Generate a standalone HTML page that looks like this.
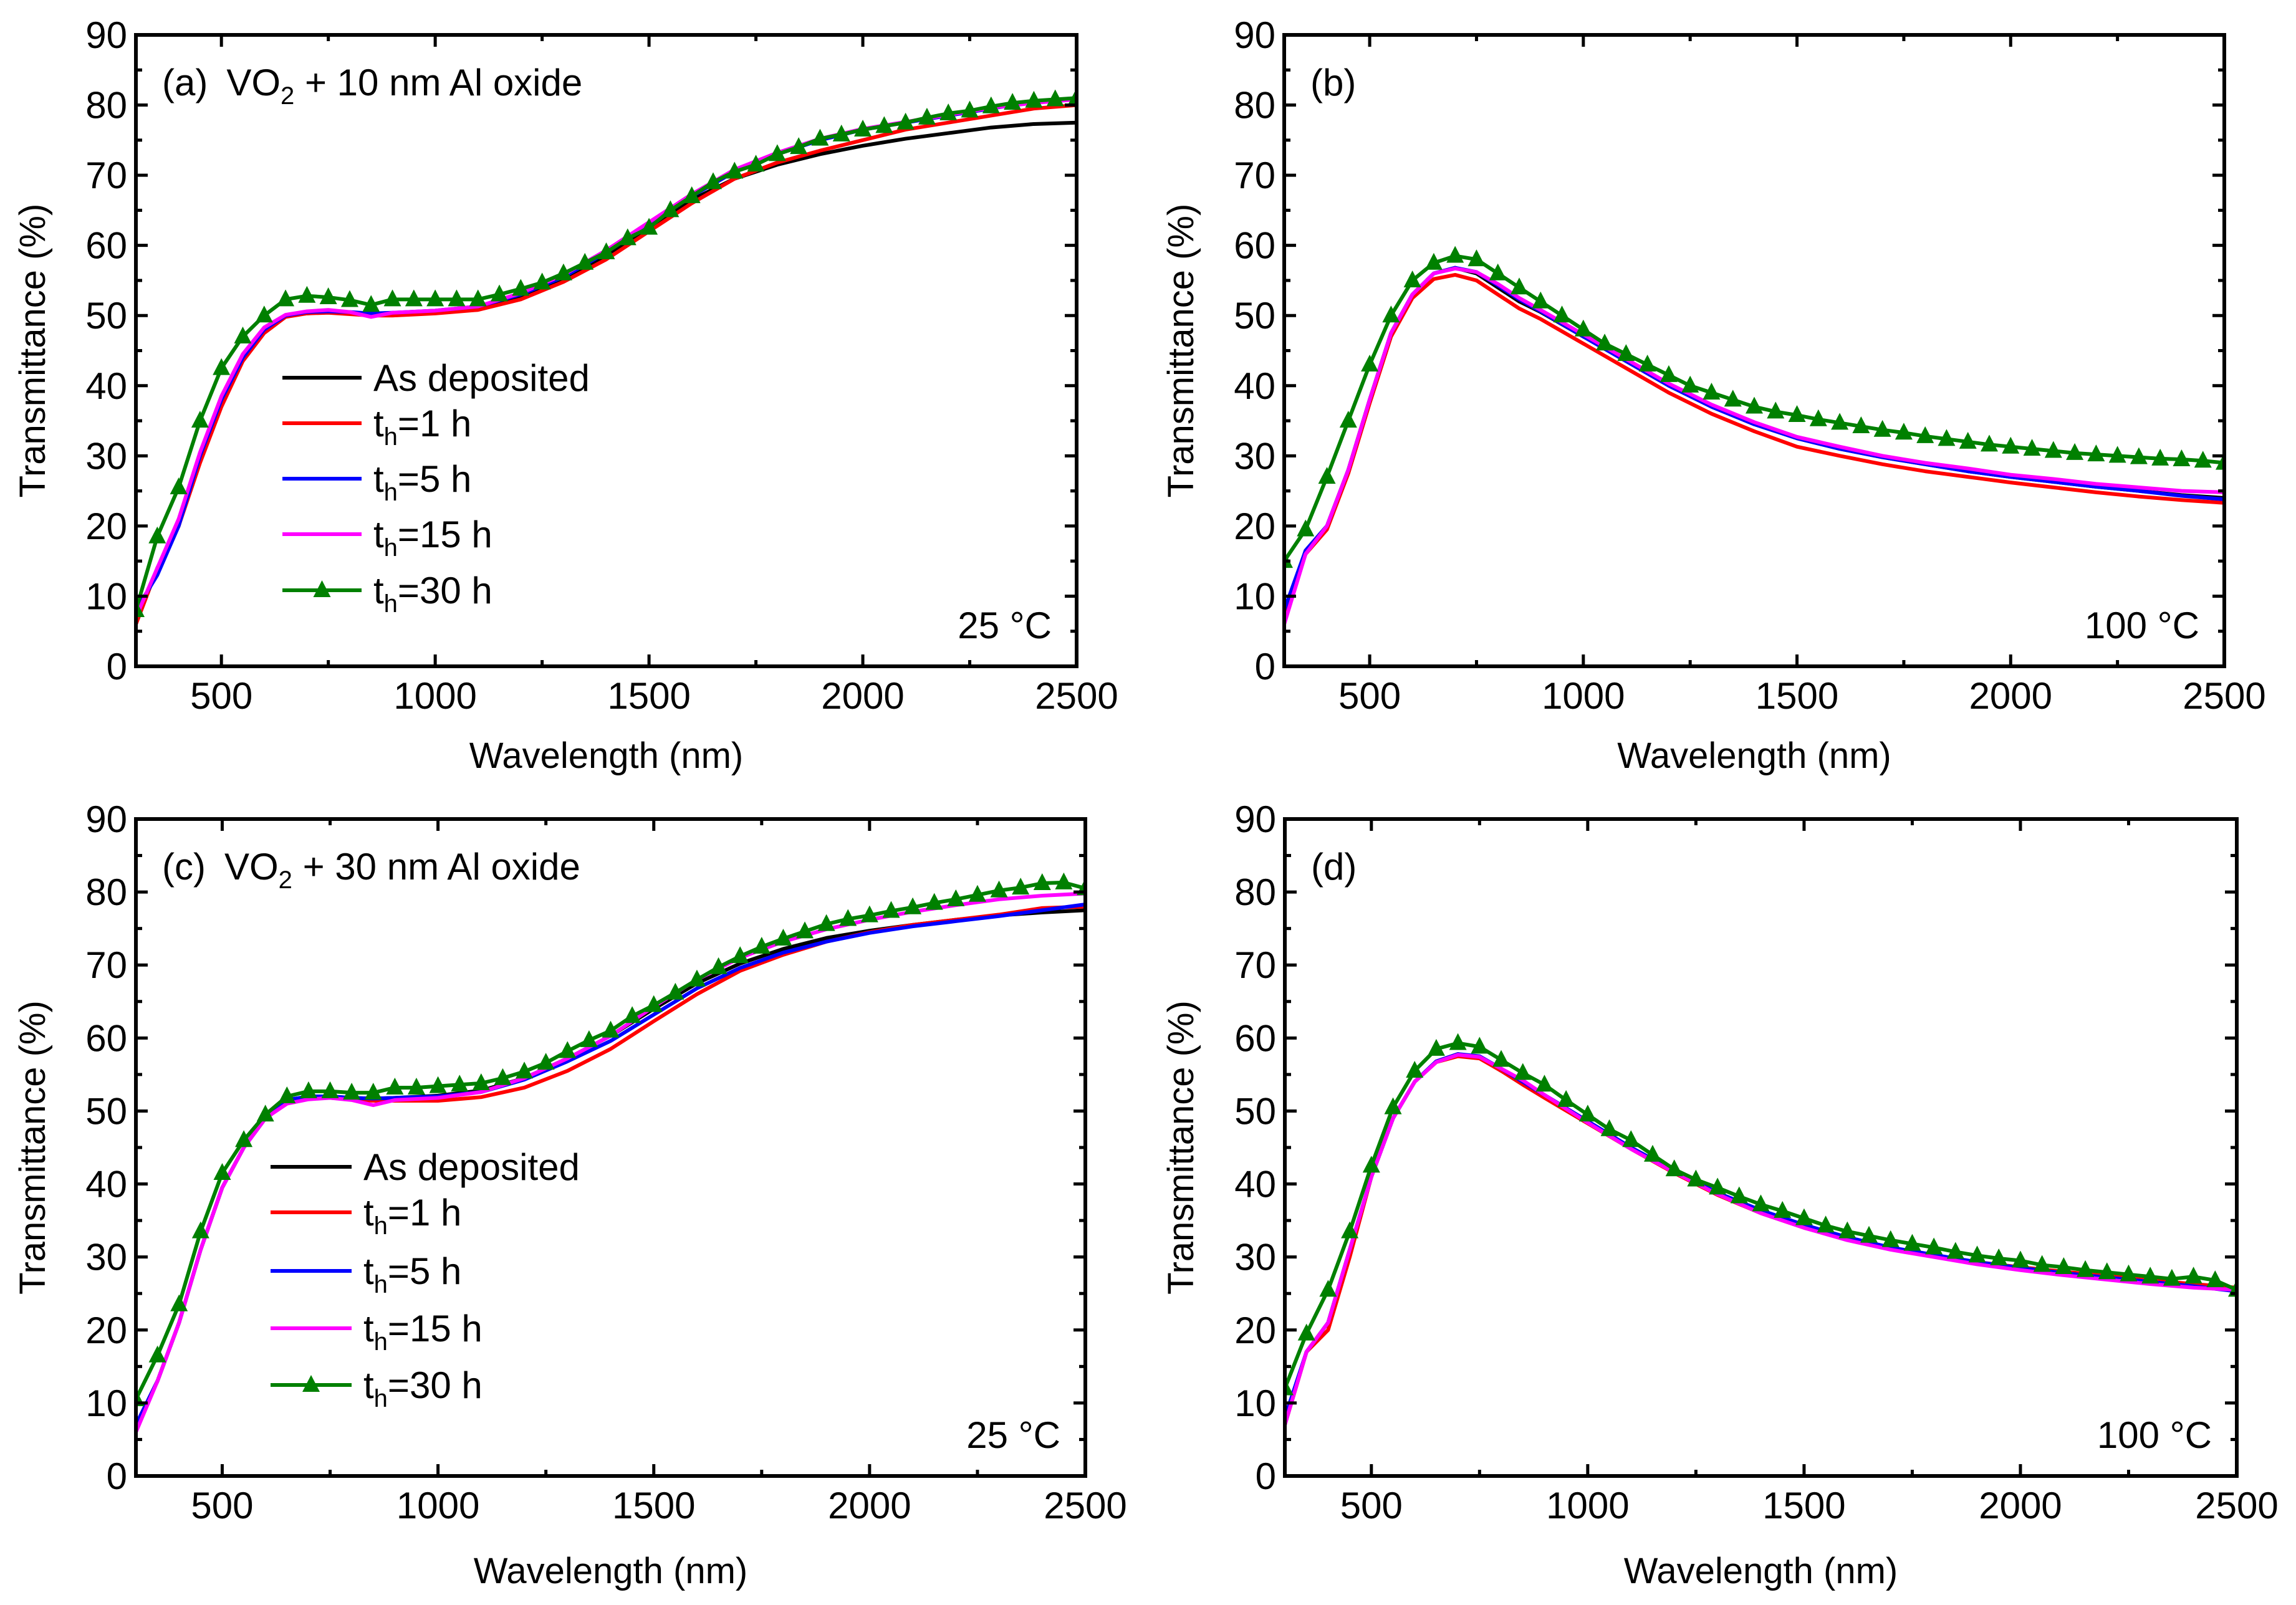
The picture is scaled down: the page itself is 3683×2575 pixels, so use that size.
<!DOCTYPE html>
<html><head><meta charset="utf-8"><style>
html,body{margin:0;padding:0;background:#fff}
svg{display:block}
.tk{font-family:"Liberation Sans Narrow","Liberation Sans",sans-serif;font-size:60px;fill:#000}
.tt{font-family:"Liberation Sans",sans-serif;font-size:58px;fill:#000}
.an{font-family:"Liberation Sans Narrow","Liberation Sans",sans-serif;font-size:60px;fill:#000}
</style></head><body>
<svg id="fig" width="3683" height="2575" viewBox="0 0 3683 2575" xmlns="http://www.w3.org/2000/svg"></svg>
<script>
const wl=[300,350,400,450,500,550,600,650,700,750,800,850,900,1000,1100,1200,1300,1400,1500,1600,1700,1800,1900,2000,2100,2200,2300,2400,2500];
const wlTri=[300,350,400,450,500,550,600,650,700,750,800,850,900,950,1000,1050,1100,1150,1200,1250,1300,1350,1400,1450,1500,1550,1600,1650,1700,1750,1800,1850,1900,1950,2000,2050,2100,2150,2200,2250,2300,2350,2400,2450,2500];
// panel a
const aBlack=[6,14,20,30,38,44,48,50,50.3,50.5,50.3,50.3,50.3,50.5,51,52.5,55,58.5,62.5,66.5,69.5,71.5,73,74.2,75.2,76,76.8,77.3,77.5];
const aRed=[6,14,20,29,37,43.5,47.5,49.8,50.3,50.4,50.2,50,50,50.3,50.8,52.3,54.8,58,62,66,69.5,71.8,73.5,75,76.5,77.5,78.5,79.5,80];
const aBlue=[8,13,20,30,38,44,48,50,50.5,50.6,50.5,50.3,50.4,50.7,51.3,53,55.5,59,63,67,70.5,73,75,76.5,77.5,78.5,79.5,80.5,81];
const aMag=[7,14,21,30.5,38.5,44.5,48.3,50.1,50.6,50.8,50.5,49.8,50.4,50.7,51.3,53.2,55.8,59.3,63.3,67.3,70.8,73.2,75.2,76.6,77.6,78.6,79.6,80.3,80.8];
const aGreen=[8,18.5,25.5,35,42.5,47,50,52.3,52.8,52.6,52.2,51.5,52.3,52.3,52.3,52.3,52.3,53,53.8,54.7,56,57.5,59,61,62.5,65,67,69,70.5,71.5,73,74,75.2,75.8,76.5,77,77.5,78.2,78.8,79.2,79.8,80.3,80.6,80.8,81];
// panel b
const bBlack=[7,16.5,20,28,38,47.5,53,56,56.8,56,54,52,50.5,47,43.5,40,37,34.5,32.5,31,29.8,28.8,27.8,27,26.3,25.6,25,24.4,24];
const bRed=[7,16,19.5,27.5,37.5,47,52.5,55.2,55.8,55,53,51,49.5,46,42.5,39,36,33.5,31.3,30,28.8,27.8,27,26.2,25.5,24.8,24.2,23.7,23.3];
const bBlue=[8,16.5,20,28,38,47.5,53,56,56.8,56.2,54.3,52.3,50.6,47,43.5,40,37,34.5,32.5,31,29.8,28.8,27.8,27,26.3,25.6,25,24.3,23.8];
const bMag=[6,16,20,28,38,47.5,53,56,56.7,56.2,54.5,52.5,50.8,47.3,43.8,40.3,37.3,34.8,32.7,31.3,30,29,28.2,27.3,26.7,26,25.5,25,24.8];
const bGreen=[15,19.5,27,35,43,50,55,57.5,58.5,58,56,54,52,50,48,46,44.5,43,41.5,40,39,38,37,36.3,35.8,35.2,34.7,34.2,33.7,33.3,32.8,32.4,32,31.6,31.3,31,30.7,30.4,30.2,30,29.8,29.6,29.5,29.3,29];
// panel c
const cBlack=[7,13,21,31,39.5,45,49,51.5,52,52,51.8,51.7,51.8,52.1,52.8,54.5,57.2,60.3,64,67.5,70.2,72.2,73.7,74.7,75.5,76.2,76.8,77.2,77.5];
const cRed=[7,13,21,31,39.5,45,49,51.2,51.8,51.8,51.6,51.4,51.4,51.4,51.9,53.2,55.5,58.5,62.3,66,69.2,71.4,73.2,74.5,75.5,76.2,76.9,77.8,78];
const cBlue=[7,13,21,31,39.5,45,49,51.5,52,52,51.8,51.7,51.8,52,52.6,54.3,56.8,59.6,63.2,66.8,69.6,71.7,73.2,74.4,75.3,76,76.7,77.5,78.3];
const cMag=[6,13,21,31,39.5,45,49,51,51.6,51.8,51.5,50.8,51.5,51.8,52.6,54.5,57.2,60.3,64.3,68,71,73.2,74.9,76.2,77.3,78.2,79,79.5,79.8];
const cGreen=[10.5,16.5,23.5,33.5,41.5,46,49.5,52,52.7,52.7,52.5,52.5,53.2,53.2,53.4,53.6,53.8,54.5,55.4,56.6,58.2,59.7,61,63,64.5,66.2,68,69.7,71.2,72.5,73.6,74.6,75.6,76.3,76.8,77.4,77.9,78.5,79,79.6,80.2,80.6,81.2,81.3,80.5];
// panel d
const dBlack=[7,17,21,31,41,49,54,56.8,57.8,57.3,55.5,53.8,52,48.5,45,41.8,38.8,36.3,34.2,32.5,31.2,30.2,29.3,28.5,27.8,27.2,26.6,26,25.5];
const dRed=[7,17,20,30,41,49,54,56.7,57.5,57.2,55.5,53.6,51.8,48.3,44.8,41.5,38.5,36,34,32.4,31.2,30.2,29.3,28.6,28,27.4,26.8,26.3,25.8];
const dBlue=[8,17,21,31,41,49,54,56.8,57.8,57.5,55.8,54,52.2,48.6,45,41.8,38.8,36.4,34.4,32.7,31.3,30.3,29.3,28.5,27.8,27.2,26.6,26,25.3];
const dMag=[7,17,21,31,41,49,54,56.7,57.7,57.4,55.8,54.2,52.2,48.4,44.8,41.6,38.6,36,34,32.3,31,30,29,28.2,27.5,26.9,26.3,25.8,25.5];
const dGreen=[12,19.5,25.5,33.5,42.5,50.5,55.5,58.5,59.3,58.8,57,55.2,53.6,51.5,49.5,47.5,46,44,42,40.6,39.5,38.3,37.2,36.3,35.3,34.3,33.5,32.9,32.3,31.8,31.3,30.7,30.2,29.8,29.5,28.9,28.6,28.2,27.9,27.6,27.3,27,27.3,26.8,25.5];

const NS="http://www.w3.org/2000/svg";
const svg=document.getElementById('fig');
function el(tag,attrs,parent){const e=document.createElementNS(NS,tag);for(const k in attrs)e.setAttribute(k,attrs[k]);(parent||svg).appendChild(e);return e;}
const colors={black:'#000',red:'#ff0000',blue:'#0000ff',mag:'#ff00ff',green:'#008000'};

const panels=[
 {id:'a',L:218,R:1727,T:56,B:1069,s:[aBlack,aRed,aBlue,aMag],g:aGreen,label:'(a)',sub:'10',temp:'25 °C',legend:{x1:453,x2:580,tx:599,ys:[606,679,768,857,947]},ytx:72,xty:1232},
 {id:'b',L:2060,R:3568,T:56,B:1069,s:[bBlack,bRed,bBlue,bMag],g:bGreen,label:'(b)',temp:'100 °C',ytx:1914,xty:1232},
 {id:'c',L:218,R:1741,T:1314,B:2368,s:[cBlack,cRed,cBlue,cMag],g:cGreen,label:'(c)',sub:'30',temp:'25 °C',legend:{x1:434,x2:564,tx:583,ys:[1872,1945,2039,2131,2222]},ytx:72,xty:2540},
 {id:'d',L:2061,R:3588,T:1314,B:2368,s:[dBlack,dRed,dBlue,dMag],g:dGreen,label:'(d)',temp:'100 °C',ytx:1914,xty:2540}
];
const sc=['black','red','blue','mag'];
const snames=['as-deposited','th-1h','th-5h','th-15h'];
const lnames=['As deposited','1','5','15','30'];

function tri(g,x,y,c,name){
 const t=el('polygon',{points:`${x},${y-16} ${x-14},${y+11} ${x+14},${y+11}`,fill:c},g);
 
 
}

panels.forEach(p=>{
 const g=el('g',{});
 
 
 const X=v=>p.L+(v-300)/2200*(p.R-p.L);
 const Y=v=>p.B-v/90*(p.B-p.T);
 const cp=el('clipPath',{id:'cp'+p.id},g);
 el('rect',{x:p.L,y:p.T,width:p.R-p.L,height:p.B-p.T},cp);
 const dg=el('g',{'clip-path':`url(#cp${p.id})`},g);
 p.s.forEach((arr,i)=>{
  const pl=el('polyline',{points:wl.map((w,j)=>X(w)+','+Y(arr[j])).join(' '),fill:'none',stroke:colors[sc[i]],'stroke-width':6,'stroke-linejoin':'round'},dg);
  
  
 });
 const gl=el('polyline',{points:wlTri.map((w,j)=>X(w)+','+Y(p.g[j])).join(' '),fill:'none',stroke:colors.green,'stroke-width':6,'stroke-linejoin':'round'},dg);
 
 
 wlTri.forEach((w,j)=>tri(dg,X(w),Y(p.g[j]),colors.green,'marker-th-30h'));
 const fr=el('rect',{x:p.L,y:p.T,width:p.R-p.L,height:p.B-p.T,fill:'none',stroke:'#000','stroke-width':6},g);
 
 
 for(let v=0;v<=90;v+=5){
  const y=Y(v),len=v%10===0?19:10;
  el('line',{x1:p.L,x2:p.L+len,y1:y,y2:y,stroke:'#000','stroke-width':5},g);
  el('line',{x1:p.R,x2:p.R-len,y1:y,y2:y,stroke:'#000','stroke-width':5},g);
  if(v%10===0){const t=el('text',{x:p.L-14,y:y+21,'text-anchor':'end',class:'tk'},g);t.textContent=v;
   }
 }
 for(let v=500;v<=2500;v+=250){
  const x=X(v),len=v%500===0?19:10;
  el('line',{x1:x,x2:x,y1:p.B,y2:p.B-len,stroke:'#000','stroke-width':5},g);
  el('line',{x1:x,x2:x,y1:p.T,y2:p.T+len,stroke:'#000','stroke-width':5},g);
  if(v%500===0){const t=el('text',{x:x,y:p.B+68,'text-anchor':'middle',class:'tk'},g);t.textContent=v;
   }
 }
 const yt=el('text',{x:p.ytx,y:(p.T+p.B)/2,'text-anchor':'middle',class:'tt',transform:`rotate(-90 ${p.ytx} ${(p.T+p.B)/2})`},g);
 yt.textContent='Transmittance (%)';
 
 const xt=el('text',{x:(p.L+p.R)/2,y:p.xty,'text-anchor':'middle',class:'tt'},g);
 xt.textContent='Wavelength (nm)';
 
 const lb=el('text',{x:p.L+42,y:p.T+97,class:'an'},g);
 if(p.sub){lb.innerHTML=`${p.label}<tspan dx="30">VO</tspan><tspan font-size="40" dy="14">2</tspan><tspan dy="-14"> + ${p.sub} nm Al oxide</tspan>`;}
 else lb.textContent=p.label;
 
 const tp=el('text',{x:p.R-40,y:p.B-45,'text-anchor':'end',class:'an'},g);
 tp.textContent=p.temp;
 
 if(p.legend){
  const lg=el('g',{},g);
  
  const cols=['#000','#ff0000','#0000ff','#ff00ff','#008000'];
  p.legend.ys.forEach((y,i)=>{
   el('line',{x1:p.legend.x1,x2:p.legend.x2,y1:y,y2:y,stroke:cols[i],'stroke-width':6},lg);
   if(i===4)tri(lg,(p.legend.x1+p.legend.x2)/2,y,cols[4],'legend-marker');
   const t=el('text',{x:p.legend.tx,y:y+21,class:'an'},lg);
   if(i===0)t.textContent='As deposited';
   else t.innerHTML=`t<tspan font-size="40" dy="14">h</tspan><tspan dy="-14">=${lnames[i]} h</tspan>`;
   
  });
 }
});
</script>
</body></html>
